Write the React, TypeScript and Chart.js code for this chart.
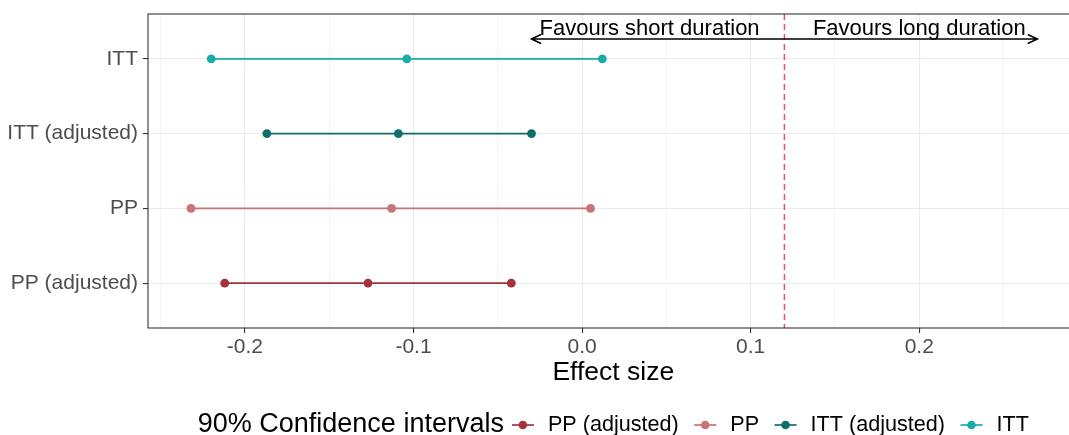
import { useEffect, useRef } from 'react';
import { Chart, registerables } from 'chart.js';

Chart.register(...registerables);

// Categories on the vertical axis, top to bottom
const categories = ['ITT', 'ITT (adjusted)', 'PP', 'PP (adjusted)'];

// Series in legend order
const seriesNames = ['PP (adjusted)', 'PP', 'ITT (adjusted)', 'ITT'];
const seriesColors = ['#A5333F', '#C77377', '#0D6E6A', '#19ABA6'];
const lowerBounds = [-0.212, -0.232, -0.187, -0.22];
const estimates = [-0.127, -0.113, -0.109, -0.104];
const upperBounds = [-0.042, 0.005, -0.03, 0.012];

// Horizontal axis
const xMajorTicks = [-0.2, -0.1, 0, 0.1, 0.2];
const xMinorTicks = [-0.25, -0.15, -0.05, 0.05, 0.15, 0.25];
const xMin = -0.2575;
const xMax = 0.2945;
const xTitle = 'Effect size';
const legendTitle = '90% Confidence intervals';

// Reference line and direction annotations
const referenceValue = 0.12;
const arrowFrom = -0.03;
const arrowTo = 0.27;
const arrowRow = -0.266;
const annotationLabels = ['Favours short duration', 'Favours long duration'];
const annotationCenters = [0.04, 0.2];

const FONT = '"Liberation Sans", Arial, Helvetica, sans-serif';
const TICK_GREY = '#4D4D4D';
const GRID = '#EBEBEB';
const FRAME = '#333333';

const isMajor = (v: number) => xMajorTicks.some((m) => Math.abs(m - v) < 1e-9);

const frameAndAnnotations = {
  id: 'frameAndAnnotations',
  beforeDatasetsDraw(chart: any) {
    const { ctx, chartArea, scales } = chart;
    const x = scales.x.getPixelForValue(referenceValue);
    ctx.save();
    ctx.strokeStyle = '#F24A5C';
    ctx.lineWidth = 1.5;
    ctx.setLineDash([6, 4]);
    ctx.beginPath();
    ctx.moveTo(x, chartArea.top);
    ctx.lineTo(x, chartArea.bottom);
    ctx.stroke();
    ctx.restore();
  },
  afterDatasetsDraw(chart: any) {
    const { ctx, chartArea, scales } = chart;
    ctx.save();
    // panel frame
    ctx.strokeStyle = FRAME;
    ctx.lineWidth = 1.1;
    ctx.strokeRect(chartArea.left, chartArea.top, chartArea.right - chartArea.left, chartArea.bottom - chartArea.top);

    // double-headed arrow
    const y = scales.y.getPixelForValue(arrowRow);
    const x1 = scales.x.getPixelForValue(arrowFrom);
    const x2 = scales.x.getPixelForValue(arrowTo);
    ctx.strokeStyle = '#000000';
    ctx.lineWidth = 1.6;
    ctx.lineCap = 'round';
    ctx.beginPath();
    ctx.moveTo(x1, y);
    ctx.lineTo(x2, y);
    const headLen = 9;
    const headHalf = 4.2;
    ctx.moveTo(x1 + headLen, y - headHalf);
    ctx.lineTo(x1, y);
    ctx.lineTo(x1 + headLen, y + headHalf);
    ctx.moveTo(x2 - headLen, y - headHalf);
    ctx.lineTo(x2, y);
    ctx.lineTo(x2 - headLen, y + headHalf);
    ctx.stroke();

    ctx.fillStyle = '#000000';
    ctx.font = `22px ${FONT}`;
    ctx.textAlign = 'center';
    ctx.textBaseline = 'alphabetic';
    annotationLabels.forEach((label, i) => {
      ctx.fillText(label, scales.x.getPixelForValue(annotationCenters[i]), y - 3.5);
    });
    ctx.restore();
  },
  afterDraw(chart: any) {
    const { ctx, chartArea } = chart;
    const cy = 425;
    const glyphW = 22;
    const gapTitle = 8;
    const gapText = 14;
    const gapItem = 15.5;
    const titleFont = `27px ${FONT}`;
    const itemFont = `21.6px ${FONT}`;
    ctx.save();
    ctx.textBaseline = 'middle';
    ctx.textAlign = 'left';
    ctx.font = titleFont;
    const titleW = ctx.measureText(legendTitle).width;
    ctx.font = itemFont;
    const itemWs = seriesNames.map((n) => ctx.measureText(n).width);
    const total =
      titleW + gapTitle + itemWs.reduce((s, w) => s + glyphW + gapText + w, 0) + gapItem * (seriesNames.length - 1);
    let x = (chartArea.left + chartArea.right) / 2 - total / 2;

    ctx.fillStyle = '#000000';
    ctx.font = titleFont;
    ctx.fillText(legendTitle, x, cy);
    x += titleW + gapTitle;

    ctx.font = itemFont;
    seriesNames.forEach((name, i) => {
      ctx.strokeStyle = seriesColors[i];
      ctx.fillStyle = seriesColors[i];
      ctx.lineWidth = 1.7;
      ctx.beginPath();
      ctx.moveTo(x, cy);
      ctx.lineTo(x + glyphW, cy);
      ctx.stroke();
      ctx.beginPath();
      ctx.arc(x + glyphW / 2, cy, 4.3, 0, Math.PI * 2);
      ctx.fill();
      x += glyphW + gapText;
      ctx.fillStyle = '#000000';
      ctx.fillText(name, x, cy);
      x += itemWs[i] + gapItem;
    });
    ctx.restore();
  },
};

export default function App() {
  const canvasRef = useRef<HTMLCanvasElement | null>(null);

  useEffect(() => {
    document.body.style.margin = '0';
    const canvas = canvasRef.current;
    if (!canvas) return;

    const datasets = seriesNames.map((name, i) => {
      const row = categories.indexOf(name);
      return {
        label: name,
        data: [
          { x: lowerBounds[i], y: row },
          { x: estimates[i], y: row },
          { x: upperBounds[i], y: row },
        ],
        showLine: true,
        borderColor: seriesColors[i],
        backgroundColor: seriesColors[i],
        borderWidth: 1.7,
        pointRadius: 4.4,
        pointHoverRadius: 4.4,
        pointBorderWidth: 0,
      };
    });

    const chart = new Chart(canvas, {
      type: 'scatter',
      data: { datasets },
      plugins: [frameAndAnnotations],
      options: {
        responsive: false,
        animation: false,
        events: [],
        layout: { padding: { top: 14, right: 1, bottom: 46, left: 0 } },
        plugins: { legend: { display: false }, tooltip: { enabled: false } },
        scales: {
          x: {
            type: 'linear',
            min: xMin,
            max: xMax,
            bounds: 'data',
            afterBuildTicks: (scale: any) => {
              scale.ticks = [...xMajorTicks, ...xMinorTicks].sort((a, b) => a - b).map((value) => ({ value }));
            },
            afterFit: (scale: any) => {
              scale.height = 61;
              scale.paddingLeft = 0;
              scale.paddingRight = 0;
            },
            border: { display: false },
            grid: {
              color: GRID,
              lineWidth: (ctx: any) => (ctx.tick && isMajor(ctx.tick.value) ? 1.1 : 0.55),
              tickColor: (ctx: any) => (ctx.tick && isMajor(ctx.tick.value) ? FRAME : 'rgba(0,0,0,0)'),
              tickLength: 5,
              tickWidth: 1.1,
            },
            ticks: {
              autoSkip: false,
              maxRotation: 0,
              padding: 2,
              color: TICK_GREY,
              font: { family: FONT, size: 21 },
              callback: (value: any) => (isMajor(Number(value)) ? Number(value).toFixed(1) : ''),
            },
            title: {
              display: true,
              text: xTitle,
              color: '#000000',
              padding: 0,
              font: { family: FONT, size: 26.5 },
            },
          },
          y: {
            type: 'linear',
            min: -0.6,
            max: categories.length - 1 + 0.6,
            reverse: true,
            bounds: 'data',
            afterBuildTicks: (scale: any) => {
              scale.ticks = categories.map((_, i) => ({ value: i }));
            },
            afterFit: (scale: any) => {
              scale.width = 148;
              scale.paddingTop = 0;
              scale.paddingBottom = 0;
            },
            border: { display: false },
            grid: {
              color: GRID,
              lineWidth: 1.1,
              tickColor: FRAME,
              tickLength: 5,
              tickWidth: 1.1,
            },
            ticks: {
              autoSkip: false,
              padding: 5,
              color: TICK_GREY,
              font: { family: FONT, size: 21 },
              callback: (value: any) => categories[Math.round(Number(value))] ?? '',
            },
          },
        },
      },
    } as any);

    return () => chart.destroy();
  }, []);

  return (
    <div style={{ width: 1069, height: 435, overflow: 'hidden', background: '#ffffff' }}>
      <canvas ref={canvasRef} width={1083} height={435} style={{ display: 'block' }} />
    </div>
  );
}
